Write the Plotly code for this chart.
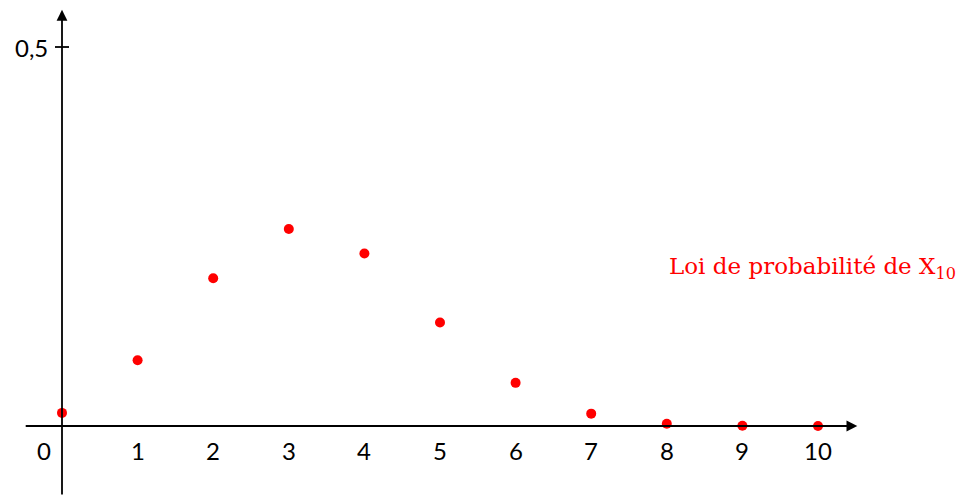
import plotly.graph_objects as go

k_values = [0, 1, 2, 3, 4, 5, 6, 7, 8, 9, 10]
probabilities = [0.0173, 0.0867, 0.195, 0.260, 0.2276, 0.1366, 0.0569, 0.0163, 0.0030, 0.0003, 0.00002]
x_tick_labels = ["0", "1", "2", "3", "4", "5", "6", "7", "8", "9", "10"]
y_tick_value = 0.5
y_tick_label = "0,5"
legend_text = "Loi de probabilité de X<sub>10</sub>"

W, H = 960, 496
px_per_x = 75.6
px_per_y = 758.0
x0_px, y0_px = 62, 426
x_range = [-x0_px / px_per_x, (W - x0_px) / px_per_x]
y_range = [-(H - y0_px) / px_per_y, y0_px / px_per_y]

fig = go.Figure()
fig.add_trace(go.Scatter(
    x=k_values, y=probabilities, mode="markers",
    marker=dict(color="#ff0000", size=10, line=dict(width=0)),
    hoverinfo="skip", showlegend=False,
))

annotations = []
# x axis with arrow
annotations.append(dict(x=10.52, y=0, ax=-0.5, ay=0, xref="x", yref="y", axref="x", ayref="y",
                        showarrow=True, arrowhead=2, arrowsize=1.2, arrowwidth=1.8, arrowcolor="black",
                        standoff=0, startstandoff=0, text=""))
# y axis with arrow
annotations.append(dict(x=0, y=0.549, ax=0, ay=y_range[0], xref="x", yref="y", axref="x", ayref="y",
                        showarrow=True, arrowhead=2, arrowsize=1.2, arrowwidth=1.8, arrowcolor="black",
                        standoff=0, startstandoff=0, text=""))

tick_font = dict(family="Lato, 'Noto Sans', sans-serif", size=24, color="black")
for k, lab in zip(k_values, x_tick_labels):
    annotations.append(dict(x=k, y=0, xref="x", yref="y", text=lab, showarrow=False,
                            xanchor="center", yanchor="middle", yshift=-24,
                            xshift=(-18 if k == 0 else 0), font=tick_font))
annotations.append(dict(x=0, y=y_tick_value, xref="x", yref="y", text=y_tick_label, showarrow=False,
                        xanchor="right", yanchor="middle", xshift=-12, font=tick_font))
annotations.append(dict(x=8.0, y=0.208, xref="x", yref="y", text=legend_text, showarrow=False,
                        xanchor="left", yanchor="middle",
                        font=dict(family="'DejaVu Serif', serif", size=23, color="#ff0000")))

shapes = [dict(type="line", xref="x", yref="y", xsizemode="pixel", xanchor=0, x0=-7, x1=7,
               y0=y_tick_value, y1=y_tick_value, line=dict(color="black", width=1.8))]

fig.update_layout(
    width=W, height=H, margin=dict(l=0, r=0, t=0, b=0),
    paper_bgcolor="white", plot_bgcolor="white",
    xaxis=dict(range=x_range, visible=False, fixedrange=True),
    yaxis=dict(range=y_range, visible=False, fixedrange=True),
    annotations=annotations, shapes=shapes,
)
fig.write_html("out.html")
